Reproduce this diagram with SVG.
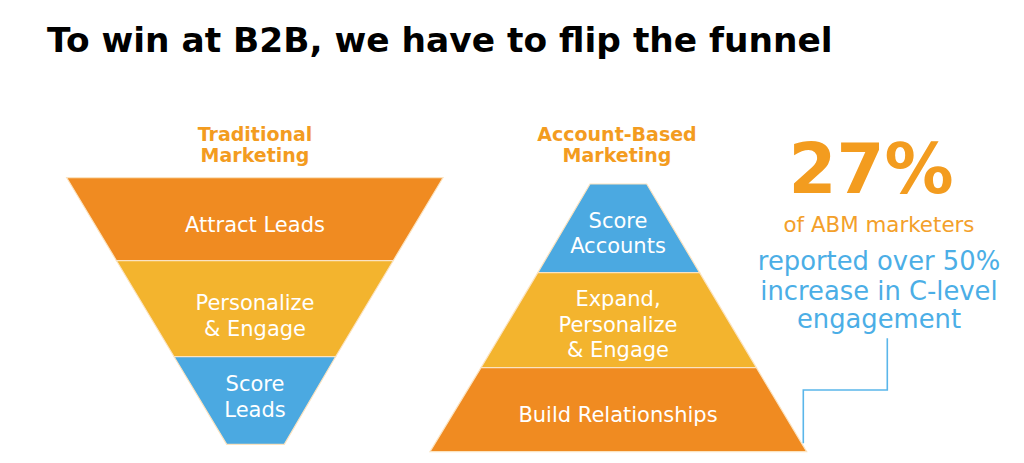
<svg xmlns="http://www.w3.org/2000/svg" width="1024" height="463" viewBox="0 0 1024 463">
<style>
.title{font-family:"DejaVu Sans","Liberation Sans",sans-serif;font-weight:bold;font-size:34.4px;fill:#000}
.head{font-family:"DejaVu Sans","Liberation Sans",sans-serif;font-weight:bold;font-size:19px;fill:#F39C1F;text-anchor:middle}
.lbl{font-family:"DejaVu Sans","Liberation Sans",sans-serif;font-size:21px;fill:#fff;text-anchor:middle}
.or{fill:#F08B21}.ye{fill:#F3B42E}.bl{fill:#4BA9E1}
.band{stroke:#FBE3C0;stroke-width:1.2}
.big{font-family:"DejaVu Sans","Liberation Sans",sans-serif;font-weight:bold;font-size:69px;fill:#F39C1F;text-anchor:middle}
.sub{font-family:"DejaVu Sans","Liberation Sans",sans-serif;font-size:21.4px;fill:#F3A02A;text-anchor:middle}
.blt{font-family:"DejaVu Sans","Liberation Sans",sans-serif;font-size:25.8px;fill:#4BAEE6;text-anchor:middle}
.conn{fill:none;stroke:#5AB6EA;stroke-width:1.6}
</style>
<text class="title" x="47" y="52">To win at B2B, we have to flip the funnel</text>

<g id="traditional-heading">
<text class="head" x="255" y="141">Traditional</text>
<text class="head" x="255" y="162">Marketing</text>
</g>
<g id="attract-leads">
<polygon class="or band" points="66.7,177.7 443,177.7 393.2,260.7 116.5,260.7"/>
<text class="lbl" x="255" y="231.5">Attract Leads</text>
</g>
<g id="personalize-engage">
<polygon class="ye band" points="116.5,260.7 393.2,260.7 335.6,356.7 174.1,356.7"/>
<text class="lbl" x="255" y="310">Personalize</text>
<text class="lbl" x="255" y="336">&amp; Engage</text>
</g>
<g id="score-leads">
<polygon class="bl band" points="174.1,356.7 335.6,356.7 284.3,444.3 226.7,444.3"/>
<text class="lbl" x="255" y="391">Score</text>
<text class="lbl" x="255" y="417">Leads</text>
</g>

<g id="abm-heading">
<text class="head" x="617" y="141">Account-Based</text>
<text class="head" x="617" y="162">Marketing</text>
</g>
<g id="score-accounts">
<polygon class="bl band" points="590,184 646.7,184 699.6,272.7 537.8,272.7"/>
<text class="lbl" x="618" y="228">Score</text>
<text class="lbl" x="618" y="253">Accounts</text>
</g>
<g id="expand-personalize-engage">
<polygon class="ye band" points="537.8,272.7 699.6,272.7 756.4,367.7 481,367.7"/>
<text class="lbl" x="618" y="305.5">Expand,</text>
<text class="lbl" x="618" y="331.5">Personalize</text>
<text class="lbl" x="618" y="357">&amp; Engage</text>
</g>
<g id="build-relationships">
<polygon class="or band" points="481,367.7 756.4,367.7 806.7,451.7 430,451.7"/>
<text class="lbl" x="618" y="421.5">Build Relationships</text>
</g>

<g id="stat">
<text class="big" x="871" y="193">27%</text>
<text class="sub" x="879" y="231.5">of ABM marketers</text>
<text class="blt" x="879" y="269.5">reported over 50%</text>
<text class="blt" x="879" y="299.5">increase in C-level</text>
<text class="blt" x="879" y="328">engagement</text>
</g>

<g id="connectors">
<polyline class="conn" points="887.3,338.3 887.3,390 803.3,390 803.3,443.3"/>
</g>
</svg>
